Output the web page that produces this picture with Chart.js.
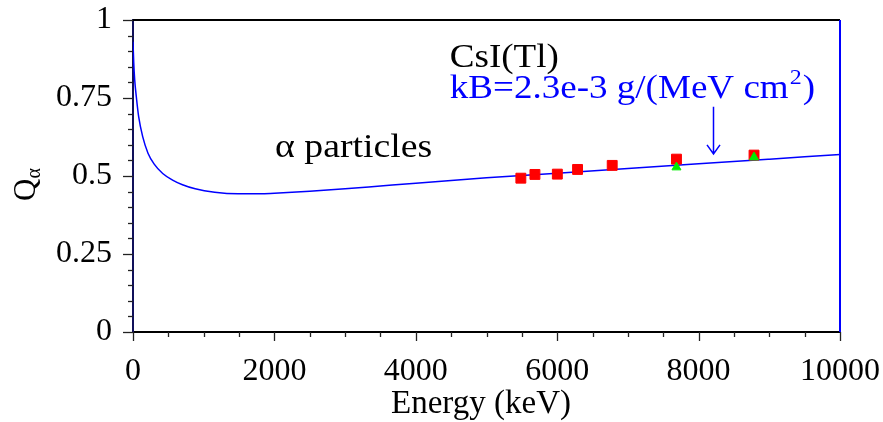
<!DOCTYPE html>
<html>
<head>
<meta charset="utf-8">
<script src="https://cdn.jsdelivr.net/npm/chart.js@4.4.0/dist/chart.umd.min.js"></script>
<style>
  body { margin: 0; background: #fff; }
  #wrap { width: 883px; height: 422px; }
</style>
</head>
<body>
<div id="wrap"><canvas id="chart"></canvas></div>
<script>
// Birks curve for alpha particles in CsI(Tl)
const curveEnergy = [0, 10, 24, 47, 80, 137, 212, 300, 420, 560, 700, 880, 1155, 1485, 1800,
    2000, 2500, 3000, 3500, 4000, 5000, 6000, 7000, 8000, 9000, 10000];
const curveQ = [0.93, 0.865, 0.808, 0.754, 0.69, 0.626, 0.573, 0.538, 0.508, 0.487, 0.472, 0.459, 0.448, 0.443, 0.443,
    0.445, 0.451, 0.459, 0.468, 0.477, 0.494, 0.509, 0.524, 0.539, 0.554, 0.569];

// measured points (red squares and green triangles)
const squareEnergy = [5486, 5685, 6002, 6288, 6778, 7687, 8784];
const squareQ = [0.493, 0.505, 0.506, 0.521, 0.534, 0.554, 0.567];
const triangleEnergy = [7687, 8784];
const triangleQ = [0.528, 0.560];

const xMajor = [0, 2000, 4000, 6000, 8000, 10000];
const yMajor = [0, 0.25, 0.5, 0.75, 1];

const serif = "'Liberation Serif', 'Times New Roman', serif";

function toPoints(xs, ys) {
    return xs.map((v, i) => ({ x: v, y: ys[i] }));
}

function isMajor(list, v) {
    return list.some(m => Math.abs(m - v) < 1e-6);
}

// text drawn a little wider than the font, like the original
function wideText(ctx, str, px, py, stretch) {
    ctx.save();
    ctx.translate(px, py);
    ctx.scale(stretch, 1);
    ctx.fillText(str, 0, 0);
    ctx.restore();
    return ctx.measureText(str).width * stretch;
}

const decor = {
    id: 'decor',
    afterDraw(chart) {
        const { ctx, chartArea: a, scales: { x, y } } = chart;
        ctx.save();

        // top and right frame
        ctx.lineWidth = 2;
        ctx.strokeStyle = '#000';
        ctx.beginPath();
        ctx.moveTo(a.left, a.top);
        ctx.lineTo(a.right, a.top);
        ctx.stroke();
        ctx.strokeStyle = '#0000ff';
        ctx.beginPath();
        ctx.moveTo(a.right, a.top);
        ctx.lineTo(a.right, a.bottom);
        ctx.stroke();

        // outward ticks, long for major, short for minor
        ctx.lineWidth = 1.3;
        ctx.strokeStyle = '#222';
        x.ticks.forEach(t => {
            const px = Math.round(x.getPixelForValue(t.value)) + 0.5;
            const len = isMajor(xMajor, t.value) ? 9 : 5;
            ctx.beginPath();
            ctx.moveTo(px, a.bottom);
            ctx.lineTo(px, a.bottom + len);
            ctx.stroke();
        });
        y.ticks.forEach(t => {
            const py = Math.round(y.getPixelForValue(t.value)) + 0.5;
            const len = isMajor(yMajor, t.value) ? 10 : 5;
            ctx.beginPath();
            ctx.moveTo(a.left, py);
            ctx.lineTo(a.left - len, py);
            ctx.stroke();
        });

        // annotations
        ctx.textAlign = 'left';
        ctx.textBaseline = 'alphabetic';
        ctx.fillStyle = '#000';
        ctx.font = '34px ' + serif;
        wideText(ctx, 'CsI(Tl)', x.getPixelForValue(4480), y.getPixelForValue(0.85), 1.09);
        wideText(ctx, '\u03b1 particles', x.getPixelForValue(2010), y.getPixelForValue(0.562), 1.11);

        ctx.fillStyle = '#0000ff';
        let kx = x.getPixelForValue(4480);
        const ky = y.getPixelForValue(0.75);
        kx += wideText(ctx, 'kB=2.3e-3 g/(MeV cm', kx, ky, 1.09);
        ctx.font = '22px ' + serif;
        kx += wideText(ctx, '2', kx + 1, ky - 14, 1.09) + 2;
        ctx.font = '34px ' + serif;
        wideText(ctx, ')', kx, ky, 1.09);

        // arrow pointing at the curve
        const ax = Math.round(x.getPixelForValue(8200)) + 0.5;
        const ay0 = y.getPixelForValue(0.722);
        const ay1 = y.getPixelForValue(0.571);
        ctx.strokeStyle = '#0000ff';
        ctx.lineWidth = 1.5;
        ctx.beginPath();
        ctx.moveTo(ax, ay0);
        ctx.lineTo(ax, ay1);
        ctx.moveTo(ax - 6.5, ay1 - 9);
        ctx.lineTo(ax, ay1);
        ctx.lineTo(ax + 6.5, ay1 - 9);
        ctx.stroke();

        // axis titles
        ctx.fillStyle = '#000';
        ctx.font = '33px ' + serif;
        ctx.textAlign = 'center';
        ctx.fillText('Energy (keV)', 481, 413);

        ctx.translate(35, 201);
        ctx.rotate(-Math.PI / 2);
        ctx.textAlign = 'left';
        ctx.font = '31px ' + serif;
        ctx.fillText('Q', 0, 0);
        const qw = ctx.measureText('Q').width;
        ctx.font = '20px ' + serif;
        ctx.fillText('\u03b1', qw, 5);

        ctx.restore();
    }
};

new Chart(document.getElementById('chart'), {
    type: 'scatter',
    data: {
        datasets: [{
            label: 'triangles',
            data: toPoints(triangleEnergy, triangleQ),
            pointStyle: 'triangle',
            pointRadius: 5.2,
            backgroundColor: '#00ee00',
            borderColor: '#00ee00',
            borderWidth: 1
        }, {
            label: 'squares',
            data: toPoints(squareEnergy, squareQ),
            pointStyle: 'rect',
            pointRadius: 7,
            backgroundColor: '#ff0000',
            borderColor: '#ff0000',
            borderWidth: 1
        }, {
            label: 'curve',
            data: toPoints(curveEnergy, curveQ),
            showLine: true,
            pointRadius: 0,
            borderColor: '#0000ff',
            borderWidth: 1.5,
            cubicInterpolationMode: 'monotone'
        }]
    },
    options: {
        responsive: true,
        maintainAspectRatio: false,
        animation: false,
        layout: { padding: { top: 20, right: 43, left: 0, bottom: 0 } },
        plugins: {
            legend: { display: false },
            tooltip: { enabled: false }
        },
        scales: {
            x: {
                type: 'linear',
                min: 0,
                max: 10000,
                border: { color: '#000', width: 2 },
                grid: { drawOnChartArea: false, color: 'rgba(0,0,0,0)', tickLength: 10 },
                ticks: {
                    stepSize: 500,
                    autoSkip: false,
                    maxRotation: 0,
                    padding: 10,
                    color: '#000',
                    font: { family: serif, size: 32 },
                    callback: v => isMajor(xMajor, v) ? String(v) : ''
                },
                afterFit: s => {
                    s.height = 90;
                    s.paddingLeft = 0;
                    s.paddingRight = 0;
                }
            },
            y: {
                min: 0,
                max: 1,
                border: { color: '#10105a', width: 2 },
                grid: { drawOnChartArea: false, color: 'rgba(0,0,0,0)', tickLength: 10 },
                ticks: {
                    stepSize: 0.05,
                    autoSkip: false,
                    padding: 11,
                    color: '#000',
                    font: { family: serif, size: 32 },
                    callback: v => isMajor(yMajor, v) ? String(Math.round(v * 100) / 100) : ''
                },
                afterFit: s => {
                    s.width = 133;
                    s.paddingTop = 0;
                    s.paddingBottom = 0;
                }
            }
        }
    },
    plugins: [decor]
});
</script>
</body>
</html>
